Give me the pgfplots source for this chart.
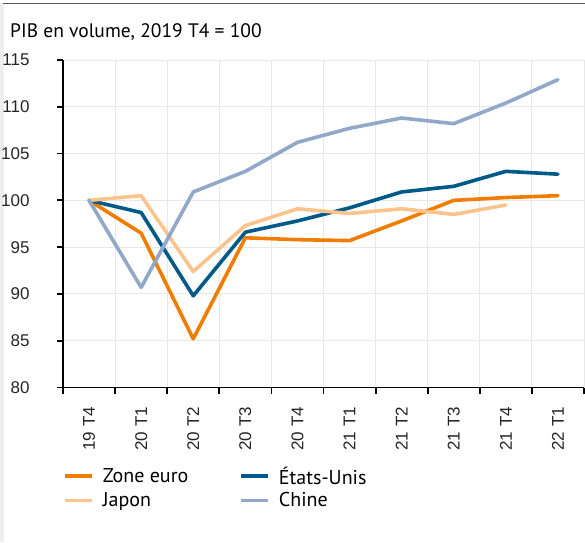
\documentclass[border=0pt]{standalone}
\usepackage{pgfplots}
\pgfplotsset{compat=1.18}
\usepackage{fontspec}
\setmainfont{PT Sans}
\newfontfamily\tickfont{Liberation Sans}
\definecolor{cEuro}{RGB}{240,125,0}
\definecolor{cJap}{RGB}{250,196,140}
\definecolor{cUS}{RGB}{0,90,135}
\definecolor{cChn}{RGB}{145,168,200}
\definecolor{gridc}{RGB}{232,232,232}
\begin{document}
\begin{tikzpicture}[x=1pt,y=1pt]
\useasboundingbox (0,0) rectangle (585,542);
\fill[white] (0,0) rectangle (585,542);
\fill[gray!13] (0,0) rectangle (3.5,538.5);
\fill[black!65] (3,537.7) rectangle (585,539.2);
\node[anchor=base west, inner sep=0pt, font=\fontsize{19.5}{21}\selectfont] at (10,504) {PIB en volume, 2019 T4 = 100};
\begin{axis}[
  at={(63pt,154.5pt)}, anchor=south west,
  scale only axis, width=521pt, height=327.5pt,
  xmin=-0.5, xmax=9.5, ymin=80, ymax=115,
  axis x line=bottom, axis y line=left,
  axis line style={-, black, line width=1.8pt},
  xtick={0,...,9},
  xticklabels={19 T4,20 T1,20 T2,20 T3,20 T4,21 T1,21 T2,21 T3,21 T4,22 T1},
  minor xtick={-0.5,0.5,...,9.5},
  ytick={80,85,...,115},
  xmajorgrids=false, xminorgrids=true, ymajorgrids=true,
  grid style={gridc, line width=1pt},
  minor grid style={gridc, line width=1pt},
  tick align=outside,
  major x tick style={draw=none},
  minor x tick style={black, line width=1.8pt},
  minor tick length=6pt,
  major tick length=6pt,
  ytick style={black, line width=1.8pt},
  ticklabel style={font=\tickfont\fontsize{17}{17}\selectfont, text=black!85},
  /pgf/number format/assume math mode=true,
  xticklabel style={rotate=90, anchor=east, yshift=0pt, xshift=-10pt},
  yticklabel style={xshift=-24pt},
  clip=false,
  legend columns=2,
  legend cell align=left,
  legend style={at={(rel axis cs:0,0)}, anchor=north west, yshift=-77pt,
    draw=none, fill=none, inner sep=0pt, row sep=3pt,
    font=\fontsize{20}{22}\selectfont,
    /tikz/every odd column/.append style={column sep=7pt},
    /tikz/every even column/.append style={column sep=49pt}},
  legend image code/.code={\draw[#1, line cap=butt] (0pt,0pt) -- (27pt,0pt);},
  every axis plot/.append style={line width=3.6pt, line join=round, line cap=round},
]
\addplot[cEuro] coordinates {(0,100) (1,96.5) (2,85.2) (3,96.0) (4,95.8) (5,95.7) (6,97.8) (7,100.0) (8,100.3) (9,100.5)};
\addlegendentry{Zone euro}
\addplot[cUS] coordinates {(0,100) (1,98.7) (2,89.8) (3,96.6) (4,97.8) (5,99.2) (6,100.9) (7,101.5) (8,103.1) (9,102.8)};
\addlegendentry{États-Unis}
\addplot[cJap] coordinates {(0,100) (1,100.5) (2,92.4) (3,97.3) (4,99.1) (5,98.6) (6,99.1) (7,98.5) (8,99.5)};
\addlegendentry{Japon}
\addplot[cChn] coordinates {(0,100) (1,90.7) (2,100.9) (3,103.1) (4,106.2) (5,107.7) (6,108.8) (7,108.2) (8,110.4) (9,112.9)};
\addlegendentry{Chine}
\end{axis}
\end{tikzpicture}
\end{document}
